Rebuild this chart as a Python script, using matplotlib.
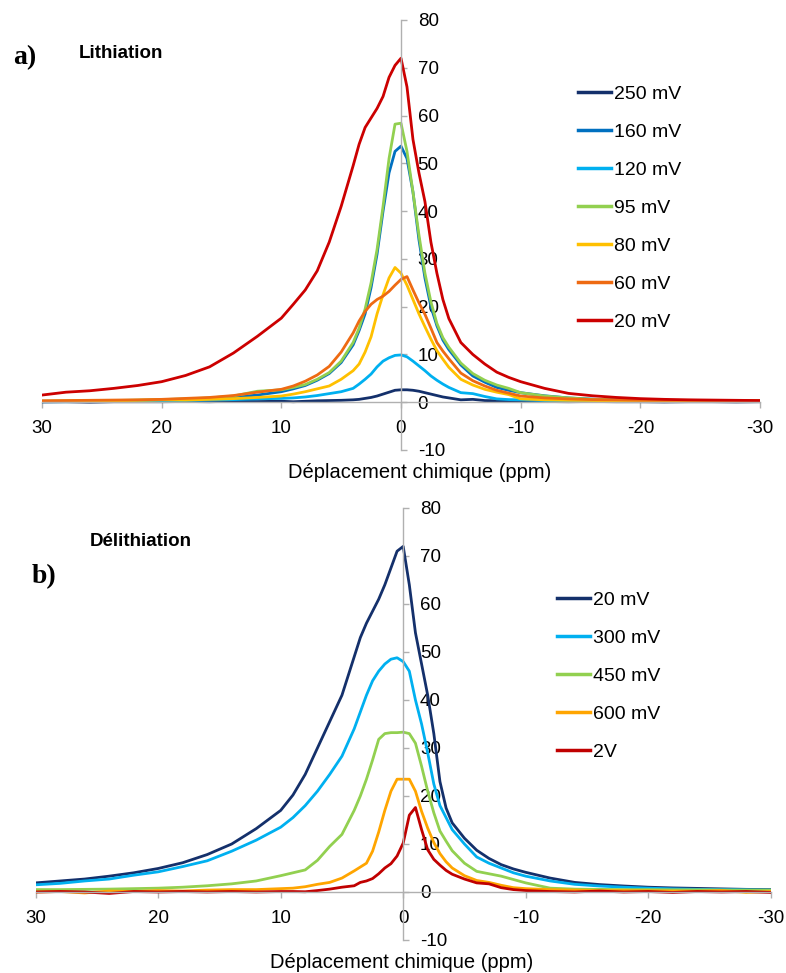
import matplotlib
matplotlib.use("Agg")
import matplotlib.pyplot as plt
from matplotlib.ticker import FixedLocator, FuncFormatter

plt.rcParams['font.family'] = ['Liberation Sans', 'DejaVu Sans']
plt.rcParams['axes.unicode_minus'] = False

# common chemical-shift grid (ppm)
shift = [30, 28, 26, 24, 22, 20, 18, 16, 14, 12, 10, 9, 8, 7, 6, 5, 4, 3.5, 3, 2.5, 2, 1.5, 1, 0.5, 0,
         -0.5, -1, -1.5, -2, -2.5, -3, -3.5, -4, -5, -6, -7, -8, -9, -10,
         -12, -14, -16, -18, -20, -22, -24, -26, -28, -30]

# ---- a) Lithiation ----
lith_labels = ["250 mV", "160 mV", "120 mV", "95 mV", "80 mV", "60 mV", "20 mV"]
lith_250 = [0.05, 0.1, 0.0, 0.1, 0.1, 0.1, 0.15, 0.1, 0.2, 0.15, 0.2, 0.1, 0.2, 0.3, 0.35, 0.4, 0.5, 0.6, 0.8, 1.0, 1.3, 1.7, 2.1, 2.5, 2.6,
            2.6, 2.5, 2.3, 2.0, 1.7, 1.4, 1.1, 0.9, 0.5, 0.6, 0.35, 0.3, 0.25, 0.2,
            0.15, 0.1, 0.15, 0.1, 0.1, 0.05, 0.1, 0.1, 0.05, 0.1]
lith_160 = [0.2, 0.2, 0.25, 0.3, 0.35, 0.45, 0.55, 0.8, 1.05, 1.5, 2.2, 2.8, 3.5, 4.6, 6.0, 8.3, 12.0, 15.0, 18.5, 24.0, 31.0, 40.0, 48.0, 52.5, 53.6,
            51.0, 44.0, 34.0, 26.0, 20.0, 16.0, 13.0, 11.0, 7.8, 5.5, 4.2, 3.1, 2.5, 2.0,
            1.35, 0.9, 0.65, 0.5, 0.4, 0.3, 0.3, 0.3, 0.3, 0.3]
lith_120 = [0.1, 0.1, 0.15, 0.2, 0.25, 0.3, 0.35, 0.45, 0.55, 0.7, 0.8, 0.9, 1.1, 1.4, 1.8, 2.2, 2.9, 3.8, 4.8, 5.9, 7.4, 8.6, 9.3, 9.8, 9.9,
            9.5, 8.6, 7.6, 6.6, 5.5, 4.6, 3.8, 3.1, 2.0, 1.8, 1.2, 0.7, 0.55, 0.5,
            0.35, 0.3, 0.25, 0.2, 0.2, 0.2, 0.2, 0.15, 0.2, 0.2]
lith_95 = [0.2, 0.25, 0.3, 0.35, 0.45, 0.55, 0.7, 0.9, 1.3, 2.3, 2.6, 3.1, 3.7, 4.8, 6.2, 8.6, 12.5, 15.5, 19.5, 25.0, 32.0, 41.0, 51.0, 58.2, 58.4,
           52.5, 44.0, 35.0, 27.0, 21.0, 16.5, 13.5, 11.5, 8.2, 6.0, 4.6, 3.6, 2.9, 2.0,
           1.3, 0.9, 0.6, 0.5, 0.4, 0.3, 0.3, 0.3, 0.3, 0.3]
lith_80 = [0.2, 0.25, 0.3, 0.3, 0.4, 0.5, 0.45, 0.6, 0.75, 1.0, 1.3, 1.7, 2.2, 2.8, 3.4, 4.8, 6.6, 8.0, 10.5, 13.7, 18.5, 22.5, 26.0, 28.2, 27.0,
           24.5, 21.5, 18.5, 15.8, 13.2, 10.8, 9.0, 7.3, 4.8, 3.6, 2.7, 2.1, 1.6, 0.7,
           0.5, 0.4, 0.35, 0.3, 0.3, 0.3, 0.3, 0.3, 0.3, 0.3]
lith_60 = [0.3, 0.35, 0.4, 0.45, 0.5, 0.6, 0.8, 1.0, 1.4, 2.1, 2.7, 3.4, 4.4, 5.7, 7.5, 10.5, 14.5, 17.0, 19.0, 20.5, 21.5, 22.2, 23.2, 24.5, 25.7,
           26.3, 23.5, 20.8, 18.4, 15.5, 12.5, 10.7, 9.1, 6.1, 4.5, 3.4, 2.5, 1.9, 1.3,
           0.9, 0.7, 0.55, 0.5, 0.4, 0.4, 0.4, 0.35, 0.35, 0.3]
lith_20 = [1.5, 2.1, 2.4, 2.9, 3.5, 4.3, 5.6, 7.4, 10.3, 13.8, 17.6, 20.5, 23.5, 27.5, 33.5, 41.0, 49.5, 54.0, 57.5, 59.5, 61.5, 64.0, 68.0, 70.5, 72.0,
           66.0, 55.0, 48.0, 42.0, 33.5, 27.0, 21.5, 17.5, 12.5, 10.0, 8.0, 6.3, 5.2, 4.3,
           2.9, 1.85, 1.35, 1.0, 0.75, 0.6, 0.5, 0.45, 0.4, 0.35]
lith_series = [lith_250, lith_160, lith_120, lith_95, lith_80, lith_60, lith_20]
lith_colors = ["#14306B", "#0070C0", "#00B0F0", "#92D050", "#FFC000", "#EE6A12", "#CC0000"]

# ---- b) Delithiation ----
delith_labels = ["20 mV", "300 mV", "450 mV", "600 mV", "2V"]
delith_20 = [1.9, 2.3, 2.7, 3.3, 4.0, 4.9, 6.1, 7.8, 10.0, 13.2, 17.0, 20.2, 24.5, 30.0, 35.5, 41.0, 49.0, 53.0, 56.0, 58.5, 61.0, 64.0, 67.5, 71.0, 72.0,
             64.0, 54.0, 47.5, 41.0, 33.0, 23.0, 17.5, 14.4, 11.2, 8.7, 7.0, 5.7, 4.8, 4.1,
             2.9, 2.0, 1.55, 1.25, 1.0, 0.85, 0.75, 0.65, 0.55, 0.5]
delith_300 = [1.5, 1.8, 2.3, 2.7, 3.5, 4.2, 5.3, 6.5, 8.5, 10.8, 13.5, 15.5, 18.0, 21.0, 24.5, 28.3, 34.0, 37.5, 41.0, 44.0, 46.0, 47.5, 48.5, 48.8, 48.0,
              46.0, 40.0, 35.0, 29.0, 22.5, 18.0, 15.5, 13.0, 10.0, 7.3, 6.0, 5.0, 4.0, 3.3,
              2.3, 1.6, 1.25, 1.0, 0.8, 0.65, 0.55, 0.5, 0.45, 0.4]
delith_450 = [0.5, 0.5, 0.55, 0.6, 0.7, 0.8, 1.0, 1.3, 1.7, 2.3, 3.4, 4.0, 4.6, 6.6, 9.5, 12.0, 17.0, 20.0, 23.5, 27.5, 31.8, 33.0, 33.2, 33.2, 33.3,
              33.0, 31.0, 26.2, 21.0, 16.5, 12.7, 10.6, 8.6, 6.0, 4.3, 3.8, 3.3, 2.6, 1.9,
              0.8, 0.6, 0.55, 0.5, 0.5, 0.45, 0.45, 0.4, 0.4, 0.4]
delith_600 = [0.0, 0.1, -0.2, 0.2, 0.1, 0.3, 0.2, 0.4, 0.5, 0.5, 0.7, 0.8, 1.1, 1.6, 2.0, 2.9, 4.4, 5.2, 6.0, 8.5, 12.5, 17.0, 21.0, 23.5, 23.5,
              23.5, 21.0, 16.8, 13.3, 10.3, 8.0, 6.3, 5.0, 3.4, 2.4, 2.0, 1.4, 0.9, 0.7,
              0.5, 0.4, 0.3, 0.3, 0.25, 0.2, 0.15, 0.3, -0.1, 0.1]
delith_2V = [0.0, 0.1, 0.0, -0.3, 0.1, 0.0, 0.1, 0.0, 0.1, 0.0, 0.1, 0.1, 0.05, 0.3, 0.6, 1.0, 1.3, 2.0, 2.3, 2.8, 3.8, 5.0, 5.9, 7.5, 10.2,
             16.0, 17.6, 13.0, 8.8, 6.8, 5.6, 4.5, 3.7, 2.7, 1.9, 1.7, 0.9, 0.5, 0.3,
             0.1, 0.0, 0.2, 0.0, 0.1, -0.1, 0.1, 0.0, 0.1, -0.1]
delith_series = [delith_20, delith_300, delith_450, delith_600, delith_2V]
delith_colors = ["#14306B", "#00B0F0", "#92D050", "#FFA500", "#C00000"]

xticks = [30, 20, 10, 0, -10, -20, -30]
yticks = [-10, 0, 10, 20, 30, 40, 50, 60, 70, 80]
axis_gray = "#B0B0B0"

W, H = 786, 973
fig = plt.figure(figsize=(W / 100, H / 100), dpi=100)


def make_axes(x0, x1, ytop, ybot):
    ax = fig.add_axes([x0 / W, 1 - ybot / H, (x1 - x0) / W, (ybot - ytop) / H])
    ax.set_xlim(30, -30)
    ax.set_ylim(-10, 80)
    for s in ["top", "left"]:
        ax.spines[s].set_visible(False)
    ax.spines["right"].set_position(("data", 0))
    ax.spines["bottom"].set_position(("data", 0))
    for s in ["right", "bottom"]:
        ax.spines[s].set_color(axis_gray)
        ax.spines[s].set_linewidth(1.0)
    ax.yaxis.set_ticks_position("right")
    ax.xaxis.set_ticks_position("bottom")
    ax.xaxis.set_major_locator(FixedLocator(xticks))
    ax.yaxis.set_major_locator(FixedLocator(yticks))
    fmt = FuncFormatter(lambda v, p: "%d" % round(v))
    ax.xaxis.set_major_formatter(fmt)
    ax.yaxis.set_major_formatter(fmt)
    ax.tick_params(axis="both", direction="out", length=4, width=1.0, color=axis_gray,
                   labelsize=13.5, labelcolor="black")
    ax.tick_params(axis="y", pad=8)
    ax.tick_params(axis="x", pad=9)
    ax.patch.set_alpha(0)
    return ax


# panel a
ax1 = make_axes(42, 760, 20, 450)
for ys, c, lab in zip(lith_series, lith_colors, lith_labels):
    ax1.plot(shift, ys, color=c, lw=2.0, label=lab, solid_joinstyle="round")
leg1 = ax1.legend(loc="upper left", bbox_to_anchor=(578 / W, 1 - 85 / H), bbox_transform=fig.transFigure,
                  frameon=False, fontsize=14, handlelength=1.7, handletextpad=0.15, labelspacing=1.05,
                  borderpad=0, borderaxespad=0)
for l in leg1.get_lines():
    l.set_linewidth(2.5)

# panel b
ax2 = make_axes(35.7, 770.7, 508, 940)
for ys, c, lab in zip(delith_series, delith_colors, delith_labels):
    ax2.plot(shift, ys, color=c, lw=2.0, label=lab, solid_joinstyle="round")
leg2 = ax2.legend(loc="upper left", bbox_to_anchor=(557 / W, 1 - 591 / H), bbox_transform=fig.transFigure,
                  frameon=False, fontsize=14, handlelength=1.7, handletextpad=0.15, labelspacing=1.05,
                  borderpad=0, borderaxespad=0)
for l in leg2.get_lines():
    l.set_linewidth(2.5)

# texts
fig.text(13 / W, 1 - 58 / H, "a)", fontsize=20, fontweight="bold", family="Liberation Serif", va="center", ha="left")
fig.text(79 / W, 1 - 53 / H, "Lithiation", fontsize=13.5, fontweight="bold", va="center", ha="left")
fig.text(32 / W, 1 - 577 / H, "b)", fontsize=20, fontweight="bold", family="Liberation Serif", va="center", ha="left")
fig.text(90 / W, 1 - 542 / H, "Délithiation", fontsize=13.5, fontweight="bold", va="center", ha="left")
fig.text(420 / W, 1 - 473 / H, "Déplacement chimique (ppm)", fontsize=14.5, va="center", ha="center")
fig.text(402 / W, 1 - 963 / H, "Déplacement chimique (ppm)", fontsize=14.5, va="center", ha="center")

fig.savefig("out.png", dpi=100)
